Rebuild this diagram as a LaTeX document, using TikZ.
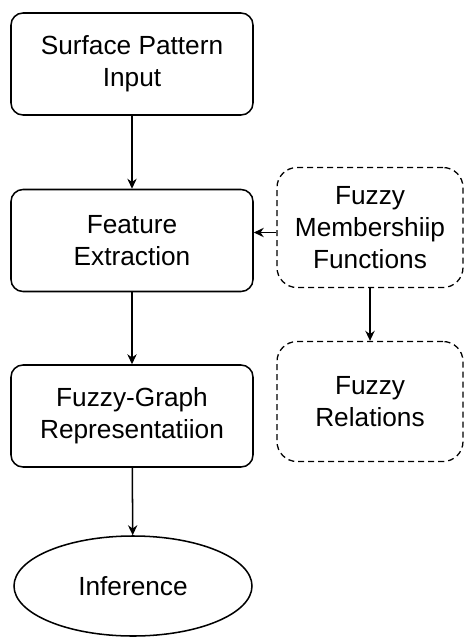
\documentclass[tikz,border=0pt]{standalone}
\usepackage{fontspec}
\setmainfont{Liberation Sans}
\usetikzlibrary{arrows.meta,positioning,shapes.geometric}

\begin{document}
\begin{tikzpicture}[x=0.03cm,y=-0.03cm,
  font=\fontsize{22.4}{27.3}\selectfont,
  procbox/.style={draw,line width=1.3pt,rounded corners=0.36cm,align=center,
    minimum width=7.26cm,minimum height=3.06cm,inner sep=0pt},
  fuzzbox/.style={draw,line width=1.1pt,dash pattern=on 0.18cm off 0.12cm,
    rounded corners=0.6cm,align=center,minimum width=5.58cm,minimum height=3.6cm,inner sep=0pt},
  flow/.style={-{Stealth[length=0.3cm,width=0.28cm]},line width=1.3pt}]
  \useasboundingbox (0,0) rectangle (466,637);
  % main chain
  \node[procbox] (input) at (132,64) {Surface Pattern\\Input};
  \node[procbox] (feat) at (132,240.5) {Feature\\Extraction};
  \node[procbox] (graph) at (132,416) {Fuzzy-Graph\\Representatiion};
  \node[draw,ellipse,line width=1.3pt,minimum width=7.14cm,minimum height=3.0cm,inner sep=0pt]
    (infer) at (133,586) {Inference};
  % fuzzy side
  \node[fuzzbox] (memb) at (370,227.5) {Fuzzy\\Membershiip\\Functions};
  \node[fuzzbox] (rel) at (370,401.5) {Fuzzy\\Relations};
  \draw[flow] (input) -- (feat);
  \draw[flow] (feat) -- (graph);
  \draw[flow] (graph) -- (infer);
  \coordinate (mw) at ([yshift=-0.15cm]memb.west);
  \draw[flow] (mw) -- (mw -| feat.east);
  \draw[flow] (memb) -- (rel);
\end{tikzpicture}
\end{document}
